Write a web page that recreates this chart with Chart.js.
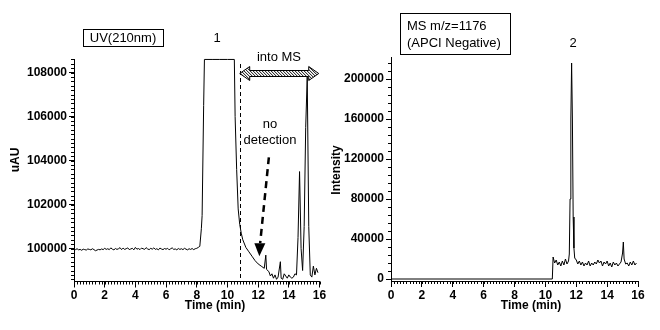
<!DOCTYPE html>
<html>
<head>
<meta charset="utf-8">
<script src="https://cdn.jsdelivr.net/npm/chart.js@4.4.1/dist/chart.umd.min.js"></script>
<style>
  body { margin: 0; background: #fff; }
  .panel { position: absolute; top: 0; width: 330px; height: 330px; }
  #left { left: 0; }
  #right { left: 330px; }
</style>
</head>
<body>
<div class="panel" id="left"><canvas id="uvChart" width="330" height="330"></canvas></div>
<div class="panel" id="right"><canvas id="msChart" width="330" height="330"></canvas></div>
<script>
// UV (210 nm) trace, time in min
const uvTime = [
    0.0, 0.1, 0.2, 0.3, 0.4, 0.5, 0.6, 0.7, 0.8, 0.9,
    1.0, 1.1, 1.2, 1.3, 1.4, 1.5, 1.6, 1.7, 1.8, 1.9,
    2.0, 2.1, 2.2, 2.3, 2.4, 2.5, 2.6, 2.7, 2.8, 2.9,
    3.0, 3.1, 3.2, 3.3, 3.4, 3.5, 3.6, 3.7, 3.8, 3.9,
    4.0, 4.1, 4.2, 4.3, 4.4, 4.5, 4.6, 4.7, 4.8, 4.9,
    5.0, 5.1, 5.2, 5.3, 5.4, 5.5, 5.6, 5.7, 5.8, 5.9,
    6.0, 6.1, 6.2, 6.3, 6.4, 6.5, 6.6, 6.7, 6.8, 6.9,
    7.0, 7.1, 7.2, 7.3, 7.4, 7.5, 7.6, 7.7, 7.8, 7.9,
    8.0, 8.1, 8.2, 8.3, 8.35, 8.45, 8.5, 9.0, 9.5, 10.0,
    10.45, 10.5, 10.6, 10.7, 10.8, 10.9, 11.0, 11.2, 11.4, 11.6,
    11.8, 12.0, 12.2, 12.4, 12.5, 12.55, 12.7, 12.8, 12.9, 13.0,
    13.1, 13.2, 13.3, 13.45, 13.5, 13.6, 13.7, 13.8, 13.9, 14.0,
    14.1, 14.2, 14.3, 14.4, 14.5, 14.6, 14.7, 14.8, 14.9, 15.0,
    15.1, 15.2, 15.3, 15.4, 15.5, 15.6, 15.7, 15.8, 15.9
];
const uvSignal = [
    99980, 99950, 99990, 99940, 99960, 99920, 99970, 99950, 99930, 99980,
    99960, 99940, 99990, 99950, 99900, 99930, 99960, 99940, 99980, 99950,
    100010, 99960, 99990, 99950, 100030, 99970, 99940, 100000, 99960, 99990,
    100040, 99950, 100020, 99960, 99990, 100030, 99950, 99980, 100010, 99940,
    100050, 99970, 100000, 99950, 100020, 99990, 99960, 100040, 99980, 99950,
    100010, 99970, 100030, 99960, 99990, 99940, 100020, 99980, 99950, 100000,
    99970, 100010, 99940, 99990, 100030, 99960, 99980, 99940, 100000, 99960,
    99990, 99950, 100010, 99970, 99940, 99990, 99960, 100000, 99950, 99990,
    100010, 100050, 100100, 100900, 101500, 106500, 108600, 108600, 108600, 108600,
    108600, 106000, 103600, 101800, 101100, 100700, 100400, 100050, 99850, 99650,
    99450, 99300, 99200, 99100, 99700, 99050, 98950, 98750, 98850, 98650,
    98800, 98600, 98700, 99400, 98650, 98600, 98850, 98750, 98650, 98800,
    98700, 98650, 98700, 98850, 98800, 100500, 103500, 100000, 99000, 101000,
    105500, 107800, 101000, 98800, 98700, 99200, 98800, 99100, 98900
];

// MS m/z=1176 trace
const msTime = [
    0, 10.45, 10.5, 10.6, 10.7, 10.8, 10.9, 11.0, 11.1, 11.2,
    11.3, 11.4, 11.5, 11.55, 11.6, 11.65, 11.7, 11.75, 11.8, 11.85,
    11.9, 12.0, 12.1, 12.2, 12.3, 12.4, 12.5, 12.6, 12.7, 12.8,
    12.9, 13.0, 13.1, 13.2, 13.3, 13.4, 13.5, 13.6, 13.7, 13.8,
    13.9, 14.0, 14.1, 14.2, 14.3, 14.4, 14.5, 14.6, 14.7, 14.8,
    14.9, 15.0, 15.05, 15.1, 15.2, 15.3, 15.4, 15.5, 15.6, 15.7,
    15.8, 15.9
];
const msIntensity = [
    0, 0, 22000, 16000, 19000, 14000, 17000, 13000, 18000, 14000,
    20000, 15000, 18000, 25000, 80000, 160000, 216000, 160000, 62000, 31000,
    21000, 19000, 15000, 18000, 14000, 17000, 13000, 16000, 14000, 18000,
    13000, 16000, 14000, 17000, 15000, 19000, 16000, 18000, 13000, 17000,
    15000, 18000, 13000, 16000, 12000, 17000, 14000, 16000, 13000, 15000,
    17000, 26000, 37000, 20000, 15000, 16000, 13000, 17000, 14000, 18000,
    14000, 16000
];

const timeTicks = [0, 2, 4, 6, 8, 10, 12, 14, 16];
const uvTicks = [100000, 102000, 104000, 106000, 108000];
const msTicks = [0, 40000, 80000, 120000, 160000, 200000];

const splitTime = 10.8;   // start of the flow into MS
const arrowEnd = 15.95;

const tickFont = { family: '"Liberation Sans", Arial, sans-serif', size: 12, weight: 'bold' };
const labelFont = '13px "Liberation Sans", Arial, sans-serif';
const titleFont = 'bold 12px "Liberation Sans", Arial, sans-serif';

function toPoints(xs, ys) {
    return xs.map((x, i) => ({ x: x, y: ys[i] }));
}

// small ticks between the labelled ones
function drawMinorTicks(chart, xStep, yStep) {
    const ctx = chart.ctx;
    const xs = chart.scales.x, ys = chart.scales.y;
    ctx.save();
    ctx.strokeStyle = '#000';
    ctx.lineWidth = 1;
    ctx.beginPath();
    const nx = Math.round((xs.max - xs.min) / xStep);
    for (let i = 0; i <= nx; i++) {
        const px = Math.round(xs.getPixelForValue(xs.min + i * xStep)) + 0.5;
        ctx.moveTo(px, xs.top);
        ctx.lineTo(px, xs.top + 3);
    }
    const first = Math.ceil(ys.min / yStep);
    const last = Math.floor(ys.max / yStep);
    for (let i = first; i <= last; i++) {
        const py = Math.round(ys.getPixelForValue(i * yStep)) + 0.5;
        ctx.moveTo(ys.right - 3, py);
        ctx.lineTo(ys.right, py);
    }
    ctx.stroke();
    ctx.restore();
}

function axisTitles(ctx, yText, yx, yy, xText, xx, xy) {
    ctx.save();
    ctx.fillStyle = '#000';
    ctx.font = titleFont;
    ctx.textAlign = 'center';
    ctx.textBaseline = 'middle';
    ctx.fillText(xText, xx, xy);
    ctx.translate(yx, yy);
    ctx.rotate(-Math.PI / 2);
    ctx.fillText(yText, 0, 0);
    ctx.restore();
}

function doubleArrowPath(ctx, x1, x2, yc) {
    ctx.beginPath();
    ctx.moveTo(x1, yc);
    ctx.lineTo(x1 + 10, yc - 7);
    ctx.lineTo(x1 + 10, yc - 3);
    ctx.lineTo(x2 - 10, yc - 3);
    ctx.lineTo(x2 - 10, yc - 7);
    ctx.lineTo(x2, yc);
    ctx.lineTo(x2 - 10, yc + 7);
    ctx.lineTo(x2 - 10, yc + 3);
    ctx.lineTo(x1 + 10, yc + 3);
    ctx.lineTo(x1 + 10, yc + 7);
    ctx.closePath();
}

const uvExtras = {
    id: 'uvExtras',
    afterDraw(chart) {
        const ctx = chart.ctx;
        const xs = chart.scales.x, ys = chart.scales.y;
        drawMinorTicks(chart, 0.2, 200);
        axisTitles(ctx, 'uAU', 16, 160, 'Time (min)', 215, 306);

        ctx.save();
        ctx.fillStyle = '#000';
        ctx.strokeStyle = '#000';
        ctx.lineWidth = 1;
        ctx.font = labelFont;
        ctx.textAlign = 'center';
        ctx.textBaseline = 'middle';

        ctx.strokeRect(83.5, 29.5, 80, 17);
        ctx.fillText('UV(210nm)', 123, 38);
        ctx.fillText('1', 217, 38);
        ctx.fillText('into MS', 279, 57);
        ctx.fillText('no', 270, 124);
        ctx.fillText('detection', 270, 140);

        // dashed split line
        const sx = Math.round(xs.getPixelForValue(splitTime)) + 0.5;
        ctx.setLineDash([4, 3]);
        ctx.beginPath();
        ctx.moveTo(sx, 64);
        ctx.lineTo(sx, chart.chartArea.bottom);
        ctx.stroke();
        ctx.setLineDash([]);

        // hatched double arrow
        const x1 = xs.getPixelForValue(splitTime), x2 = xs.getPixelForValue(arrowEnd);
        const yc = 73.5;
        doubleArrowPath(ctx, x1, x2, yc);
        ctx.fillStyle = '#fff';
        ctx.fill();
        ctx.save();
        ctx.clip();
        ctx.beginPath();
        for (let hx = x1 - 16; hx < x2 + 16; hx += 3) {
            ctx.moveTo(hx, yc - 8);
            ctx.lineTo(hx + 16, yc + 8);
        }
        ctx.stroke();
        ctx.restore();
        doubleArrowPath(ctx, x1, x2, yc);
        ctx.stroke();

        // dashed pointer to "no detection"
        const ax1 = xs.getPixelForValue(12.7), ay1 = ys.getPixelForValue(104150);
        const ax2 = xs.getPixelForValue(12.08), ay2 = ys.getPixelForValue(99650);
        ctx.lineWidth = 2.5;
        ctx.setLineDash([7, 5]);
        ctx.beginPath();
        ctx.moveTo(ax1, ay1);
        ctx.lineTo(ax2 + 0.8, ay2 - 13);
        ctx.stroke();
        ctx.setLineDash([]);
        ctx.fillStyle = '#000';
        ctx.beginPath();
        ctx.moveTo(ax2 - 5, ay2 - 13);
        ctx.lineTo(ax2 + 6, ay2 - 13);
        ctx.lineTo(ax2, ay2);
        ctx.closePath();
        ctx.fill();
        ctx.restore();
    }
};

const msExtras = {
    id: 'msExtras',
    afterDraw(chart) {
        const ctx = chart.ctx;
        drawMinorTicks(chart, 0.2, 8000);
        axisTitles(ctx, 'Intensity', 7, 170, 'Time (min)', 201, 306);

        ctx.save();
        ctx.fillStyle = '#000';
        ctx.strokeStyle = '#000';
        ctx.lineWidth = 1;
        ctx.font = labelFont;
        ctx.textBaseline = 'middle';
        ctx.strokeRect(70.5, 13.5, 110, 41);
        ctx.textAlign = 'left';
        ctx.fillText('MS m/z=1176', 77, 26);
        ctx.fillText('(APCI Negative)', 77, 43);
        ctx.textAlign = 'center';
        ctx.fillText('2', 243, 43);
        ctx.restore();
    }
};

function makeChart(id, points, yMin, yMax, yTicks, yWidth, pad, extras) {
    return new Chart(document.getElementById(id).getContext('2d'), {
        type: 'line',
        data: {
            datasets: [{
                data: points,
                borderColor: '#000',
                borderWidth: 1,
                pointRadius: 0,
                tension: 0,
                fill: false,
                clip: 3
            }]
        },
        options: {
            responsive: false,
            animation: false,
            layout: { padding: pad },
            plugins: { legend: { display: false }, tooltip: { enabled: false } },
            scales: {
                x: {
                    type: 'linear',
                    min: 0,
                    max: 16,
                    afterBuildTicks: s => { s.ticks = timeTicks.map(v => ({ value: v })); },
                    afterFit: s => { s.height = 330 - pad.bottom - pad.chartBottom; },
                    ticks: { font: tickFont, color: '#000', padding: 1, maxRotation: 0, autoSkip: false,
                             callback: v => String(v) },
                    grid: { drawOnChartArea: false, tickLength: 6, color: '#000' },
                    border: { color: '#000' }
                },
                y: {
                    min: yMin,
                    max: yMax,
                    afterBuildTicks: s => { s.ticks = yTicks.map(v => ({ value: v })); },
                    afterFit: s => { s.width = yWidth; },
                    ticks: { font: tickFont, color: '#000', padding: 2, autoSkip: false,
                             callback: v => String(v) },
                    grid: { drawOnChartArea: false, tickLength: 5, color: '#000' },
                    border: { color: '#000' }
                }
            }
        },
        plugins: [extras]
    });
}

makeChart('uvChart', toPoints(uvTime, uvSignal), 98500, 108620, uvTicks, 74,
    { top: 59, right: 10.5, bottom: 0, left: 0, chartBottom: 281.5 }, uvExtras);
makeChart('msChart', toPoints(msTime, msIntensity), -2000, 222000, msTicks, 61,
    { top: 57, right: 22, bottom: 0, left: 0, chartBottom: 281 }, msExtras);
</script>
</body>
</html>
